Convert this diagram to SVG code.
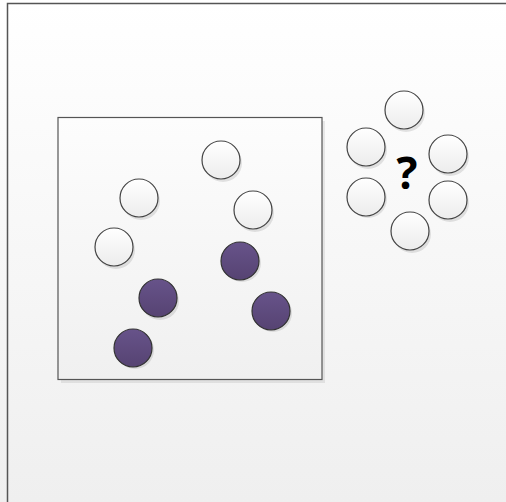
<svg xmlns="http://www.w3.org/2000/svg" width="506" height="502" viewBox="0 0 506 502">
<defs>
<linearGradient id="bg" x1="0" y1="0" x2="0" y2="1">
<stop offset="0" stop-color="#ffffff"/>
<stop offset="1" stop-color="#efefef"/>
</linearGradient>
<linearGradient id="boxg" x1="0" y1="0" x2="0" y2="1">
<stop offset="0" stop-color="#fdfdfd"/>
<stop offset="1" stop-color="#f0f0f0"/>
</linearGradient>
<linearGradient id="wg" x1="0" y1="0" x2="0" y2="1">
<stop offset="0" stop-color="#ffffff"/>
<stop offset="1" stop-color="#ececec"/>
</linearGradient>
<linearGradient id="pg" x1="0" y1="0" x2="0" y2="1">
<stop offset="0" stop-color="#67538a"/>
<stop offset="1" stop-color="#564372"/>
</linearGradient>
</defs>
<style>
.w{fill:url(#wg);stroke:#444;stroke-width:1.2}
.p{fill:url(#pg);stroke:#333;stroke-width:1.2}
.sh{fill:#000;opacity:0.1}
.q{font-family:"Open Sans","Liberation Sans",Arial,sans-serif;font-weight:bold;font-size:44px;fill:#000}
</style>
<rect x="0" y="0" width="506" height="502" fill="url(#bg)"/>
<path d="M7.5,502 V3.5 H506" fill="none" stroke="#555" stroke-width="1.5"/>
<g id="box">
<rect x="61" y="121" width="264" height="262" fill="#000" opacity="0.08"/>
<rect x="58" y="117.5" width="264" height="262" fill="url(#boxg)" stroke="#555" stroke-width="1.2"/>
</g>
<g id="shadows">
<circle class="sh" cx="223" cy="163" r="19"/>
<circle class="sh" cx="141" cy="201" r="19"/>
<circle class="sh" cx="255" cy="213" r="19"/>
<circle class="sh" cx="116" cy="250" r="19"/>
<circle class="sh" cx="242" cy="263" r="19"/>
<circle class="sh" cx="160" cy="301" r="19"/>
<circle class="sh" cx="273" cy="313" r="19"/>
<circle class="sh" cx="135" cy="350" r="19"/>
<circle class="sh" cx="406" cy="113" r="19"/>
<circle class="sh" cx="368" cy="150" r="19"/>
<circle class="sh" cx="450" cy="157" r="19"/>
<circle class="sh" cx="368" cy="199" r="19"/>
<circle class="sh" cx="450" cy="203" r="19"/>
<circle class="sh" cx="412" cy="234" r="19"/>
</g>
<g id="c1"><circle class="w" cx="221" cy="160" r="19"/></g>
<g id="c2"><circle class="w" cx="139" cy="198" r="19"/></g>
<g id="c3"><circle class="w" cx="253" cy="210" r="19"/></g>
<g id="c4"><circle class="w" cx="114" cy="247" r="19"/></g>
<g id="c5"><circle class="p" cx="240" cy="261" r="19"/></g>
<g id="c6"><circle class="p" cx="158" cy="298" r="19"/></g>
<g id="c7"><circle class="p" cx="271" cy="311" r="19"/></g>
<g id="c8"><circle class="p" cx="133" cy="348" r="19"/></g>
<g id="r1"><circle class="w" cx="404" cy="110" r="19"/></g>
<g id="r2"><circle class="w" cx="366" cy="147" r="19"/></g>
<g id="r3"><circle class="w" cx="448" cy="154" r="19"/></g>
<g id="r4"><circle class="w" cx="366" cy="197" r="19"/></g>
<g id="r5"><circle class="w" cx="448" cy="200" r="19"/></g>
<g id="r6"><circle class="w" cx="410" cy="231" r="19"/></g>
<g id="qmark"><text class="q" x="407" y="189" text-anchor="middle">?</text></g>
<g id="connectors"/>
</svg>
